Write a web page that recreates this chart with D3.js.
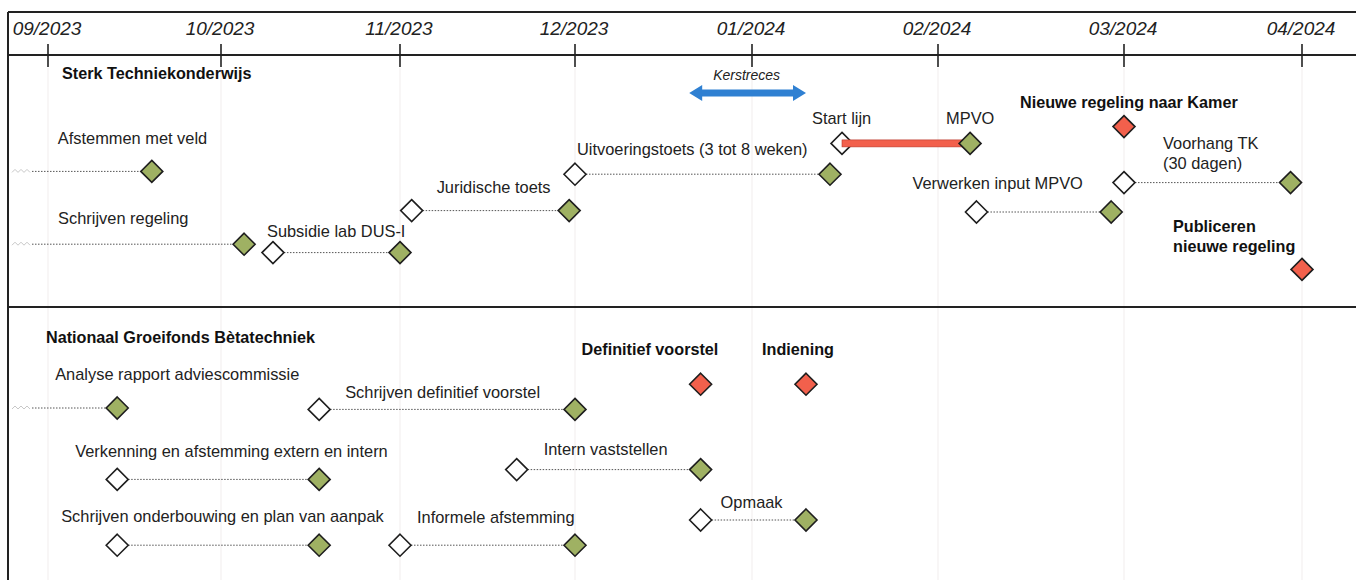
<!DOCTYPE html>
<html><head><meta charset="utf-8">
<script src="https://cdn.jsdelivr.net/npm/d3@7"></script>
<style>
html,body{margin:0;padding:0;background:#fff;}
svg{display:block;font-family:"Liberation Sans",Arial,sans-serif;}
</style></head>
<body><svg id="c" width="1356" height="580"></svg>
<script>
// ---------- DATA ----------
const tickLabels = ["09/2023","10/2023","11/2023","12/2023","01/2024","02/2024","03/2024","04/2024"];
const tickDates  = ["2023-09-01","2023-10-01","2023-11-01","2023-12-01","2024-01-01","2024-02-01","2024-03-01","2024-04-01"];

const sectionTitles = ["Sterk Techniekonderwijs","Nationaal Groeifonds Bètatechniek"];

// tasks: start (null = started before chart) -> end
const taskNames  = ["Afstemmen met veld","Schrijven regeling","Subsidie lab DUS-I","Juridische toets",
  "Uitvoeringstoets (3 tot 8 weken)","MPVO","Voorhang TK|(30 dagen)","Verwerken input MPVO",
  "Analyse rapport adviescommissie","Schrijven definitief voorstel","Verkenning en afstemming extern en intern",
  "Intern vaststellen","Schrijven onderbouwing en plan van aanpak","Informele afstemming","Opmaak"];
const taskStarts = [null,null,"2023-10-10","2023-11-03","2023-12-01","2024-01-16","2024-03-01","2024-02-07",
  null,"2023-10-18","2023-09-13","2023-11-21","2023-09-13","2023-11-01","2023-12-23"];
const taskEnds   = ["2023-09-19","2023-10-05","2023-11-01","2023-11-30","2024-01-14","2024-02-06","2024-03-30","2024-02-28",
  "2023-09-13","2023-12-01","2023-10-18","2023-12-23","2023-10-18","2023-12-01","2024-01-10"];
const taskSection = [0,0,0,0,0,0,0,0,1,1,1,1,1,1,1];
const taskKind   = ["open","open","normal","normal","normal","critical","normal","normal",
  "open","normal","normal","normal","normal","normal","normal"];
const taskStartLabel = ["","","","","","Start lijn","","","","","","","","",""];

// milestones (deadlines)
const milestoneNames = ["Nieuwe regeling naar Kamer","Publiceren|nieuwe regeling","Definitief voorstel","Indiening"];
const milestoneDates = ["2024-03-01","2024-04-01","2023-12-23","2024-01-10"];

// holiday period
const breakName = "Kerstreces";
const breakStart = "2023-12-21";
const breakEnd = "2024-01-10";

// ---------- LAYOUT (not data) ----------
const taskLane  = [3.8,6.4,6.7,5.2,3.9,2.8,4.2,5.25,12.25,12.3,14.8,14.45,17.15,17.15,16.25];
const taskLabelOff = [[-94,-27],[-186,-20],[-6,-16],[25,-18],[2,-19],[-24,-19],[39,-34],[-64,-23],
  [-62,-28],[26,-11],[-42,-22],[27,-15],[-56,-23],[17,-22],[20,-12]];
const startLabelOff = [-30,-19];
const milestoneLane = [2.2,7.3,11.4,11.4];
const milestoneLabelOff = [[-104,-19],[-129,-37],[-119,-29],[-44,-29]];
const breakLane = 1.0;

const parse = d3.timeParse("%Y-%m-%d");
const W = 1356, H = 580;
const svg = d3.select("#c");

// month ticks on the reference are hand-spaced; piecewise time scale
const x = d3.scaleTime().domain(tickDates.map(parse))
  .range([48,221,400,575,752,938,1124,1302]);
const y = d3.scaleLinear().domain([0,18]).range([65,569]);

const C = {green:"#9fb163", red:"#f2604c", blue:"#2f80d2", ink:"#1e1e1e", dot:"#555"};
const R = 11;

// faint month gridlines
svg.append("g").selectAll("line").data(tickDates).join("line")
  .attr("x1",d=>x(parse(d))).attr("x2",d=>x(parse(d)))
  .attr("y1",68).attr("y2",H).attr("stroke","#f4f0f0").attr("stroke-width",1.2);

// frame
const frame = svg.append("g").attr("stroke","#222").attr("stroke-width",2);
frame.append("line").attr("x1",8).attr("x2",W).attr("y1",12).attr("y2",12);
frame.append("line").attr("x1",8).attr("x2",8).attr("y1",12).attr("y2",H);
frame.append("line").attr("x1",8).attr("x2",W).attr("y1",55).attr("y2",55);
frame.append("line").attr("x1",8).attr("x2",W).attr("y1",307).attr("y2",307);

// axis ticks + labels
const ax = svg.append("g");
ax.selectAll("line").data(tickDates).join("line")
  .attr("x1",d=>x(parse(d))).attr("x2",d=>x(parse(d)))
  .attr("y1",44).attr("y2",67).attr("stroke","#222").attr("stroke-width",1.6);
ax.selectAll("text").data(tickLabels).join("text")
  .attr("x",(d,i)=>x(parse(tickDates[i]))-1).attr("y",35)
  .attr("text-anchor","middle").attr("font-size",19).attr("font-style","italic")
  .attr("fill","#222").text(d=>d);

// section titles
svg.append("text").attr("x",62).attr("y",79).attr("font-size",16.2).attr("font-weight","bold").attr("fill","#111").text(sectionTitles[0]);
svg.append("text").attr("x",46).attr("y",343).attr("font-size",16.2).attr("font-weight","bold").attr("fill","#111").text(sectionTitles[1]);

// diamonds helper
function diamond(g, cx, cy, fill){
  g.append("path").attr("d",`M${cx},${cy-R}L${cx+R},${cy}L${cx},${cy+R}L${cx-R},${cy}Z`)
    .attr("fill",fill).attr("stroke",C.ink).attr("stroke-width",1.6).attr("stroke-linejoin","miter");
}
function label(g, tx, ty, txt, bold){
  const parts = txt.split("|");
  parts.forEach((p,k)=>{
    g.append("text").attr("x",tx).attr("y",ty+k*20)
      .attr("font-size",bold?16.2:16.4).attr("font-weight",bold?"bold":"normal")
      .attr("fill",bold?"#111":"#222").text(p);
  });
}

// Kerstreces arrow
{
  const g = svg.append("g");
  const x0 = x(parse(breakStart)), x1 = x(parse(breakEnd)), cy = y(breakLane);
  const hl = 13, hh = 8, sh = 3.5;
  g.append("path").attr("d",
    `M${x0},${cy}L${x0+hl},${cy-hh}L${x0+hl},${cy-sh}L${x1-hl},${cy-sh}L${x1-hl},${cy-hh}L${x1},${cy}` +
    `L${x1-hl},${cy+hh}L${x1-hl},${cy+sh}L${x0+hl},${cy+sh}L${x0+hl},${cy+hh}Z`)
    .attr("fill",C.blue);
  g.append("text").attr("x",(x0+x1)/2-1).attr("y",cy-13).attr("text-anchor","middle")
    .attr("font-size",14).attr("font-style","italic").attr("fill","#222").text(breakName);
}

// tasks
taskNames.forEach((name,i)=>{
  const g = svg.append("g");
  const cy = y(taskLane[i]);
  const xe = x(parse(taskEnds[i]));
  const kind = taskKind[i];
  let xs, anchor;
  if (kind === "open"){
    xs = 32; anchor = xe;
    // squiggle marking continuation from earlier
    g.append("path").attr("d",`M12,${cy+1}l3,-3l3,3l3,-3l3,3l3,-3l3,3`)
      .attr("fill","none").attr("stroke","#c8c8c8").attr("stroke-width",1);
    g.append("line").attr("x1",xs).attr("x2",xe-R).attr("y1",cy).attr("y2",cy)
      .attr("stroke",C.dot).attr("stroke-width",1).attr("stroke-dasharray","1.5,1.5");
  } else {
    xs = x(parse(taskStarts[i])); anchor = xs;
    if (kind === "normal"){
      g.append("line").attr("x1",xs+R).attr("x2",xe-R).attr("y1",cy).attr("y2",cy)
        .attr("stroke",C.dot).attr("stroke-width",1).attr("stroke-dasharray","1.5,1.5");
    }
    diamond(g, xs, cy, "#fff");
    if (kind === "critical"){
      g.append("rect").attr("x",xs).attr("y",cy-3.5).attr("width",xe-xs).attr("height",7)
        .attr("fill",C.red).attr("stroke","#b8382a").attr("stroke-width",0.6);
    }
  }
  diamond(g, xe, cy, C.green);
  const off = taskLabelOff[i];
  if (kind === "critical"){
    label(g, xs+startLabelOff[0], cy+startLabelOff[1], taskStartLabel[i], false);
    label(g, xe+off[0], cy+off[1], name, false);
  } else {
    label(g, anchor+off[0], cy+off[1], name, false);
  }
});

// milestones
milestoneNames.forEach((name,i)=>{
  const g = svg.append("g");
  const cx = x(parse(milestoneDates[i])), cy = y(milestoneLane[i]);
  diamond(g, cx, cy, C.red);
  const off = milestoneLabelOff[i];
  label(g, cx+off[0], cy+off[1], name, true);
});
</script>
</body></html>
